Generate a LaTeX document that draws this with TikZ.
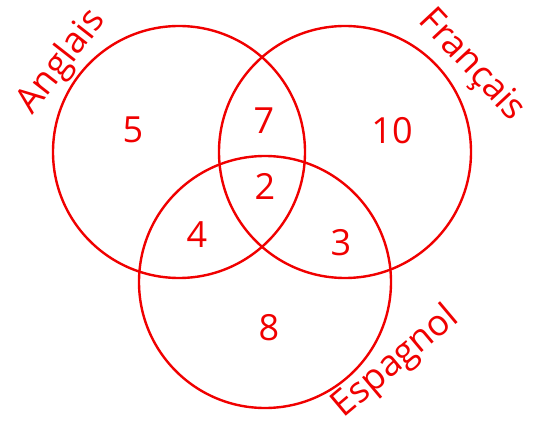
\documentclass[tikz,border=0pt]{standalone}
\usepackage{fontspec}
\setmainfont{Open Sans}
\definecolor{vred}{RGB}{240,0,0}
\begin{document}
\begin{tikzpicture}[x=1pt,y=-1pt,
  ring/.style={draw=vred,line width=2.4pt,circle,minimum size=252pt,inner sep=0pt},
  num/.style={text=vred,font=\fontsize{36}{36}\selectfont},
  lbl/.style={text=vred,font=\fontsize{36}{36}\selectfont,inner sep=0pt}]
\useasboundingbox (0,0) rectangle (535,422);
\node[ring] (A) at (179,152) {};
\node[ring] (F) at (345,152) {};
\node[ring] (E) at (265,282) {};
\node[num] (n5) at (133,130) {5};
\node[num] (n7) at (264,121) {7};
\node[num] (n10) at (392,131) {10};
\node[num] (n2) at (265,186) {2};
\node[num] (n4) at (197,235) {4};
\node[num] (n3) at (341,243) {3};
\node[num] (n8) at (269,328) {8};
\node[lbl,rotate=52] (la) at (62,62) {Anglais};
\node[lbl,rotate=-47] (lf) at (471,66) {Français};
\node[lbl,rotate=40] (le) at (396,362) {Espagnol};
\end{tikzpicture}
\end{document}
